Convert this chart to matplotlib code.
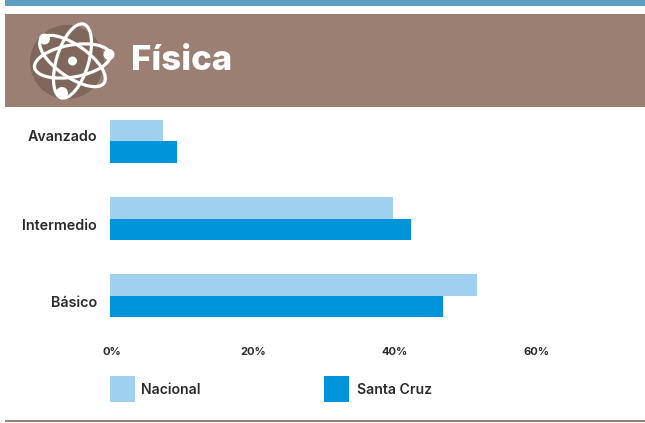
import matplotlib
matplotlib.use('Agg')
import matplotlib.pyplot as plt
import matplotlib.transforms as mtransforms
from matplotlib.patches import Rectangle, Circle, Ellipse

W = 645
H = 423

categories = ['Básico', 'Intermedio', 'Avanzado']
nacional = [51.8, 40.0, 7.5]
santa_cruz = [47.1, 42.5, 9.4]
ticks = [0, 20, 40, 60]
tick_labels = ['0%', '20%', '40%', '60%']

BROWN = '#9c7f73'
LIGHT = '#a0d0f0'
BLUE = '#0094db'
TEXT = '#2a2a2a'
FONT = 'Inter'

fig = plt.figure(figsize=(W / 100, H / 100), dpi=100, facecolor='white')

# background layer in pixel coordinates, y going down
bg = fig.add_axes([0, 0, 1, 1])
bg.set_xlim(0, W)
bg.set_ylim(H, 0)
bg.axis('off')

bg.add_patch(Rectangle((5, 0), 640, 6, color='#5a9fbf', lw=0))
bg.add_patch(Rectangle((5, 14), 640, 93, color=BROWN, lw=0))
bg.add_patch(Rectangle((5, 420.5), 640, 1.8, color=BROWN, lw=0))

# atom icon
bg.add_patch(Circle((67, 62), 37, color='#7f675b', lw=0))
for angle in [-10, 35, 107]:
    bg.add_patch(Ellipse((72.5, 61), 77, 32, angle=angle, fill=False, ec='white', lw=2.3))
bg.add_patch(Circle((72.5, 61), 4.5, color='white', lw=0))
bg.add_patch(Circle((44.5, 39), 5.5, color='white', lw=0))
bg.add_patch(Circle((109, 54.5), 5.5, color='white', lw=0))
bg.add_patch(Circle((62, 93), 6, color='white', lw=0))

bg.text(131, 61.5, 'Física', color='white', fontsize=25, fontweight='heavy',
        family=FONT, va='center', ha='left')

# legend
bg.add_patch(Rectangle((110, 376), 25, 26, color=LIGHT, lw=0))
bg.add_patch(Rectangle((324, 376), 25, 26, color=BLUE, lw=0))
bg.text(141, 390, 'Nacional', color=TEXT, fontsize=10.1, fontweight='semibold',
        family=FONT, va='center', ha='left')
bg.text(357, 390, 'Santa Cruz', color=TEXT, fontsize=10.1, fontweight='semibold',
        family=FONT, va='center', ha='left')

# bars
ax = fig.add_axes([110 / W, 1 - 334 / H, 530 / W, 231 / H])
ax.patch.set_alpha(0)
h = 0.282
y = range(len(categories))
ax.barh([i + h / 2 for i in y], nacional, height=h, color=LIGHT)
ax.barh([i - h / 2 for i in y], santa_cruz, height=h, color=BLUE)
ax.set_xlim(0, 530 / 7.08)
ax.set_ylim(-0.5, 2.5)

ax.set_yticks(list(y))
ax.set_yticklabels(categories, fontsize=10.3, fontweight='semibold', color=TEXT, family=FONT)
ax.set_xticks(ticks)
ax.set_xticklabels(tick_labels, fontsize=8, fontweight='bold', color=TEXT, family=FONT)
ax.tick_params(axis='both', length=0)
ax.tick_params(axis='y', pad=9.4)
ax.tick_params(axis='x', pad=9.6)
for spine in ax.spines.values():
    spine.set_visible(False)

# tick labels sit a little right of the gridline position
offset = mtransforms.ScaledTranslation(1.5 / 100, 0, fig.dpi_scale_trans)
for label in ax.get_xticklabels():
    label.set_transform(label.get_transform() + offset)

# category labels are not centred on their bars in the original
for label, dy in zip(ax.get_yticklabels(), [-5.5, -5.5, 6.5]):
    shift = mtransforms.ScaledTranslation(0, dy / 100, fig.dpi_scale_trans)
    label.set_transform(label.get_transform() + shift)

fig.savefig('out.png', dpi=100)
